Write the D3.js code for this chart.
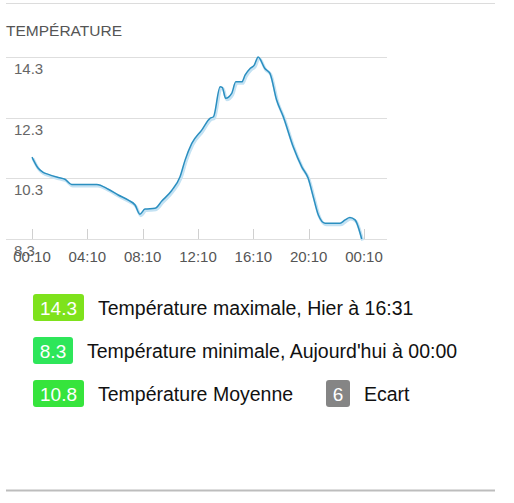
<!DOCTYPE html>
<html>
<head>
<meta charset="utf-8">
<script src="https://cdn.jsdelivr.net/npm/d3@7"></script>
<style>
  html, body { margin: 0; padding: 0; background: #fff; }
  svg { display: block; font-family: "Liberation Sans", Arial, sans-serif; }
</style>
</head>
<body>
<svg id="chart" width="514" height="503"></svg>
<script>
// ---- data ----
const title = "TEMPÉRATURE";
const times = ["00:10","00:37","00:58","01:21","02:04","02:33","03:02","04:51","05:41","06:24","07:08","07:37","07:58",
  "08:20","09:03","09:33","10:16","10:52","11:14","11:43","12:26","13:02","13:17","13:46","13:55","14:10","14:36",
  "14:54","15:20","15:34","15:56","16:14","16:31","17:00","17:22","17:51","18:20","19:03","19:40","20:08","20:30",
  "20:52","21:21","22:26","22:48","23:09","23:31","24:00"];
const temps = [11.0,10.63,10.5,10.43,10.33,10.27,10.1,10.1,9.94,9.75,9.58,9.42,9.12,
  9.29,9.31,9.55,9.9,10.35,10.9,11.45,11.89,12.28,12.33,13.32,13.3,12.94,13.1,
  13.48,13.48,13.7,13.92,14.03,14.3,13.92,13.76,12.88,12.33,11.34,10.68,10.3,9.69,
  9.09,8.82,8.82,8.93,9.01,8.93,8.3];
const yTicks = [8.3, 10.3, 12.3, 14.3];
const xTickHours = [0, 4, 8, 12, 16, 20, 24]; // hours after 00:10
const xTickLabels = ["00:10","04:10","08:10","12:10","16:10","20:10","00:10"];
const badgeValues = ["14.3", "8.3", "10.8", "6"];
const badgeLabels = ["Température maximale, Hier à 16:31", "Température minimale, Aujourd'hui à 00:00", "Température Moyenne", "Ecart"];
const badgeColors = ["#7ee21c", "#2ee65a", "#36e43c", "#858585"];

// ---- helpers ----
const toHours = t => { const [h, m] = t.split(":").map(Number); return h + m / 60 - 10 / 60; };
const data = times.map((t, i) => ({ h: toHours(t), v: temps[i] }));

const svg = d3.select("#chart");

// top & bottom rules
svg.append("line").attr("x1", 6).attr("x2", 495).attr("y1", 3.5).attr("y2", 3.5)
  .attr("stroke", "#dcdcdc").attr("stroke-width", 1);
svg.append("line").attr("x1", 6).attr("x2", 495).attr("y1", 490.5).attr("y2", 490.5)
  .attr("stroke", "#bdbdbd").attr("stroke-width", 2);

// title
svg.append("text").attr("x", 6).attr("y", 36).text(title)
  .attr("font-size", 15.5).attr("fill", "#555");

// scales
const plotLeft = 6, plotRight = 387;
const x = d3.scaleLinear().domain([0, 24]).range([32, 364]);
const y = d3.scaleLinear().domain([8.3, 14.3]).range([239, 57]);

// grid
const grid = svg.append("g");
grid.selectAll("line").data(yTicks).join("line")
  .attr("x1", plotLeft).attr("x2", plotRight)
  .attr("y1", d => Math.round(y(d)) + 0.5).attr("y2", d => Math.round(y(d)) + 0.5)
  .attr("stroke", "#dedede");
grid.selectAll("text").data(yTicks).join("text")
  .attr("x", 14).attr("y", d => y(d) + 17)
  .text(d => d.toFixed(1))
  .attr("font-size", 15).attr("fill", "#666");

// x axis ticks
const xa = svg.append("g");
xa.selectAll("line").data(xTickHours).join("line")
  .attr("x1", d => Math.round(x(d)) + 0.5).attr("x2", d => Math.round(x(d)) + 0.5)
  .attr("y1", 229).attr("y2", 239)
  .attr("stroke", "#d0d0d0");
xa.selectAll("text").data(xTickHours).join("text")
  .attr("x", d => x(d)).attr("y", 262)
  .attr("text-anchor", "middle")
  .text((d, i) => xTickLabels[i])
  .attr("font-size", 15).attr("fill", "#555");

// line
const line = d3.line().x(d => x(d.h)).y(d => y(d.v)).curve(d3.curveMonotoneX);
svg.append("path").datum(data).attr("d", line)
  .attr("fill", "none").attr("stroke", "#c4e2f3").attr("stroke-width", 3)
  .attr("transform", "translate(1,1.5)");
svg.append("path").datum(data).attr("d", line)
  .attr("fill", "none").attr("stroke", "#2b8fc0").attr("stroke-width", 1.5);

// badges legend
const badgeRows = [
  { x: 33, y: 294, w: 51 },
  { x: 33, y: 337, w: 40 },
  { x: 33, y: 380, w: 51 },
  { x: 326, y: 380, w: 24 }
];
const lg = svg.append("g");
badgeRows.forEach((b, i) => {
  lg.append("rect").attr("x", b.x).attr("y", b.y).attr("width", b.w).attr("height", 27)
    .attr("rx", 3).attr("fill", badgeColors[i]);
  lg.append("text").attr("x", b.x + b.w / 2).attr("y", b.y + 20.5)
    .attr("text-anchor", "middle").attr("fill", "#fff").attr("font-size", 19)
    .text(badgeValues[i]);
  lg.append("text").attr("x", b.x + b.w + 14).attr("y", b.y + 21)
    .attr("fill", "#111").attr("font-size", 19.5)
    .text(badgeLabels[i]);
});
</script>
</body>
</html>
